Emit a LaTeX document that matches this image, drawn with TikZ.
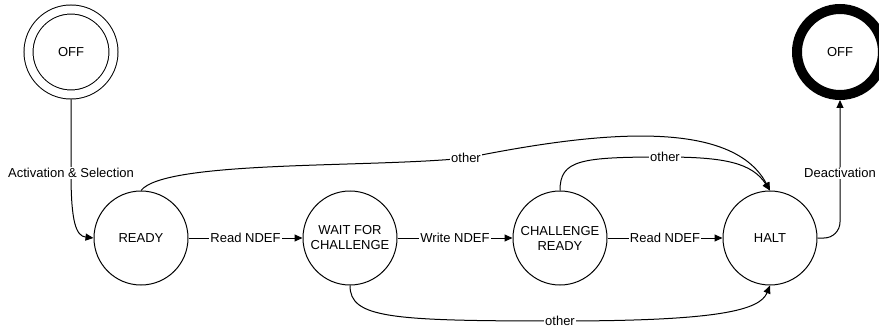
\documentclass[tikz,border=0pt]{standalone}
\usepackage{fontspec}
\setmainfont{Liberation Sans}
\usetikzlibrary{arrows.meta}
\begin{document}
\begin{tikzpicture}[x=1pt,y=-1pt,
  state/.style={circle, draw, line width=1pt, minimum size=94pt, inner sep=0pt,
    align=center, font=\fontsize{13}{15}\selectfont},
  startstate/.style={state, minimum size=85pt, double, double distance=8pt, outer sep=5pt},
  endstate/.style={state, minimum size=86pt, line width=10pt, outer sep=5pt},
  edge/.style={draw, line width=1pt, -{Triangle[length=8pt,width=7pt]}},
  lbl/.style={fill=white, inner sep=1pt, font=\fontsize{13}{15}\selectfont}]
\useasboundingbox (0,0) rectangle (879,329);

% states
\node[startstate] (OFFa) at (71,52) {OFF};
\node[endstate]   (OFFb) at (840,52) {OFF};
\node[state] (READY) at (141,238) {READY};
\node[state] (WAIT)  at (350,238) {WAIT FOR\\CHALLENGE};
\node[state] (CH)    at (560,238) {CHALLENGE\\READY};
\node[state] (HALT)  at (770,238) {HALT};

% transitions
\draw[edge] (OFFa.south) -- (71,173) node[lbl] {Activation \& Selection}
  .. controls (71,222) and (76,236) .. (READY.west);
\draw[edge] (READY) -- node[lbl] {Read NDEF} (WAIT);
\draw[edge] (WAIT) -- node[lbl] {Write NDEF} (CH);
\draw[edge] (CH) -- node[lbl] {Read NDEF} (HALT);
\draw[edge, rounded corners=16pt] (HALT.east) -| node[lbl, pos=0.735] {Deactivation} (OFFb.south);

\draw[edge] (READY.north) .. controls (165,160) and (370,168) .. (466,158)
  node[lbl] {other} .. controls (585,134) and (730,115) .. (HALT.north);
\draw[edge] (CH.north) .. controls (560,160) and (580,157) .. (665,157)
  node[lbl] {other} .. controls (725,157) and (752,163) .. (HALT.north);
\draw[edge] (WAIT.south) .. controls (350,318) and (390,321) .. (560,321)
  node[lbl] {other} .. controls (720,321) and (760,310) .. (HALT.south);
\end{tikzpicture}
\end{document}
